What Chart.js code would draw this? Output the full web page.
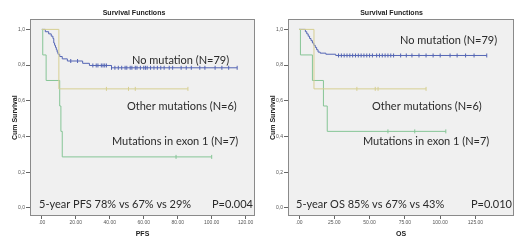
<!DOCTYPE html>
<html>
<head>
<meta charset="utf-8">
<script src="https://cdn.jsdelivr.net/npm/chart.js@4/dist/chart.umd.min.js"></script>
<style>
  body { margin: 0; background: #fff; }
  .wrap { position: absolute; top: 0; width: 260px; height: 247px; }
</style>
</head>
<body>
<div class="wrap" style="left:0"><canvas id="pfs"></canvas></div>
<div class="wrap" style="left:260px"><canvas id="os"></canvas></div>
<script>
// ---- PFS panel ----
var pfsNoMutT = [0, 2, 4, 5.5, 6.5, 7, 7.5, 8, 8.5, 9, 9.5, 10.5, 12, 15, 24, 28, 41, 115];
var pfsNoMutS = [1, .987, .975, .962, .949, .924, .911, .899, .886, .873, .861, .848, .835, .823, .810, .798, .785, .785];
var pfsNoMutCens = [17, 21, 30, 32, 33, 35, 36, 37, 38, 41, 43, 45, 47, 49, 50, 52, 53, 55, 56, 58, 60, 61, 62, 64, 66, 68, 70, 72, 75, 77, 82, 85, 88, 93, 96, 102, 106, 110, 115];
var pfsOtherT = [0, 10, 86];
var pfsOtherS = [1, .667, .667];
var pfsOtherCens = [38, 51, 55, 86];
var pfsExonT = [0, 0.5, 2.5, 10.5, 11.2, 12, 100];
var pfsExonS = [1, .857, .714, .571, .429, .286, .286];
var pfsExonCens = [79, 100];
var pfsTicks = [0, 20, 40, 60, 80, 100, 120];

// ---- OS panel ----
var osNoMutT = [0, 4.5, 5.5, 6.5, 7.5, 8.5, 9.5, 10.5, 11.5, 12.5, 13.5, 15, 19, 26, 133];
var osNoMutS = [1, .987, .975, .962, .949, .937, .924, .911, .899, .886, .873, .867, .861, .854, .854];
var osNoMutCens = [28, 30, 32, 34, 36, 38, 40, 42, 44, 46, 48, 50, 52, 55, 57, 59, 61, 63, 65, 67, 72, 76, 80, 85, 90, 95, 100, 107, 112, 118, 124, 133];
var osOtherT = [0, 10.6, 90];
var osOtherS = [1, .667, .667];
var osOtherCens = [41, 54, 56, 90];
var osExonT = [0, 1, 9.5, 17.3, 20, 104];
var osExonS = [1, .857, .714, .571, .429, .429];
var osExonCens = [63, 82, 104];
var osTicks = [0, 25, 50, 75, 100, 125];

var yTicks = [0, 0.2, 0.4, 0.6, 0.8, 1.0];

var blue = '#5465b4', gold = '#d6cf92', green = '#86c596';

function pts(t, s) { return t.map(function (v, i) { return { x: v, y: s[i] }; }); }
function survAt(t, s, x) {
  var y = s[0];
  for (var i = 0; i < t.length; i++) if (t[i] <= x) y = s[i];
  return y;
}
function cens(t, s, c) { return c.map(function (x) { return { x: x, y: survAt(t, s, x) }; }); }

function curve(t, s, color) {
  return { data: pts(t, s), borderColor: color, borderWidth: 1, stepped: true, showLine: true, pointRadius: 0, fill: false };
}
function marks(t, s, c, color) {
  return { data: cens(t, s, c), showLine: false, pointStyle: 'line', rotation: 90, pointRadius: 2,
           borderColor: color, borderWidth: 1, pointBorderColor: color };
}

var framePlugin = {
  id: 'frame',
  beforeDraw: function (chart) {
    var a = chart.chartArea, ctx = chart.ctx;
    ctx.save();
    ctx.fillStyle = '#f0f0f0';
    ctx.fillRect(a.left, a.top, a.right - a.left, a.bottom - a.top);
    ctx.restore();
  },
  afterDraw: function (chart) {
    var a = chart.chartArea, ctx = chart.ctx, o = chart.options.plugins.frame;
    ctx.save();
    ctx.strokeStyle = '#8a8a8a';
    ctx.lineWidth = 1;
    ctx.strokeRect(Math.round(a.left) + 0.5, Math.round(a.top) + 0.5, Math.round(a.right - a.left) - 1, Math.round(a.bottom - a.top) - 1);
    ctx.fillStyle = '#2a2a2a';
    ctx.font = '11px Lato';
    ctx.textBaseline = 'middle';
    o.texts.forEach(function (tx) { ctx.textAlign = tx[3] || 'left'; ctx.fillText(tx[0], tx[1], tx[2]); });
    ctx.restore();
  }
};

function make(id, curves, ticks, xmin, xmax, xLabel, padLeft, yWidth, padRight, texts) {
  new Chart(id, {
    type: 'scatter',
    data: { datasets: curves },
    options: {
      responsive: true,
      maintainAspectRatio: false,
      animation: false,
      layout: { padding: { left: padLeft, right: padRight, top: 0, bottom: 0 } },
      plugins: {
        legend: { display: false },
        tooltip: { enabled: false },
        title: { display: true, text: 'Survival Functions', color: '#222',
                 font: { family: 'Liberation Sans', size: 7, weight: 'bold' }, padding: { top: 9, bottom: 2 } },
        frame: { texts: texts }
      },
      scales: {
        x: {
          type: 'linear', min: xmin, max: xmax,
          afterBuildTicks: function (s) { s.ticks = ticks.map(function (v) { return { value: v }; }); },
          afterFit: function (s) { s.height = 31; },
          grid: { drawOnChartArea: false, drawTicks: true, tickLength: 3, color: '#666' },
          border: { display: false },
          ticks: { color: '#555', font: { family: 'Liberation Sans', size: 5 }, padding: 1, maxRotation: 0,
                   callback: function (v) { return v === 0 ? '.00' : v.toFixed(2); } },
          title: { display: true, text: xLabel, color: '#222', font: { family: 'Liberation Sans', size: 7, weight: 'bold' }, padding: { top: 0, bottom: 9 } }
        },
        y: {
          type: 'linear', min: -0.045, max: 1.056,
          afterBuildTicks: function (s) { s.ticks = yTicks.map(function (v) { return { value: v }; }); },
          afterFit: function (s) { s.width = yWidth; },
          grid: { drawOnChartArea: false, drawTicks: true, tickLength: 4, color: '#666' },
          border: { display: false },
          ticks: { color: '#555', font: { family: 'Liberation Sans', size: 5 }, padding: 1,
                   callback: function (v) { return v.toFixed(1).replace('.', ','); } },
          title: { display: true, text: 'Cum Survival', color: '#222', font: { family: 'Liberation Sans', size: 7, weight: 'bold' }, padding: 0 }
        }
      }
    },
    plugins: [framePlugin]
  });
}

make('pfs', [
  curve(pfsOtherT, pfsOtherS, gold), marks(pfsOtherT, pfsOtherS, pfsOtherCens, gold),
  curve(pfsExonT, pfsExonS, green), marks(pfsExonT, pfsExonS, pfsExonCens, green),
  curve(pfsNoMutT, pfsNoMutS, blue), marks(pfsNoMutT, pfsNoMutS, pfsNoMutCens, blue)
], pfsTicks, -7, 125.5, 'PFS', 11, 19, 3, [
  ['No mutation (N=79)', 132, 60],
  ['Other mutations (N=6)', 127, 106],
  ['Mutations in exon 1 (N=7)', 112, 141],
  ['5-year PFS 78% vs 67% vs 29%', 39, 204],
  ['P=0.004', 253, 204, 'right']
]);

make('os', [
  curve(osOtherT, osOtherS, gold), marks(osOtherT, osOtherS, osOtherCens, gold),
  curve(osExonT, osExonS, green), marks(osExonT, osExonS, osExonCens, green),
  curve(osNoMutT, osNoMutS, blue), marks(osNoMutT, osNoMutS, osNoMutCens, blue)
], osTicks, -7.8, 152.3, 'OS', 9, 19, 6, [
  ['No mutation (N=79)', 140, 40],
  ['Other mutations (N=6)', 112, 106],
  ['Mutations in exon 1 (N=7)', 103, 141],
  ['5-year OS 85% vs 67% vs 43%', 36, 204],
  ['P=0.010', 252, 204, 'right']
]);
</script>
</body>
</html>
